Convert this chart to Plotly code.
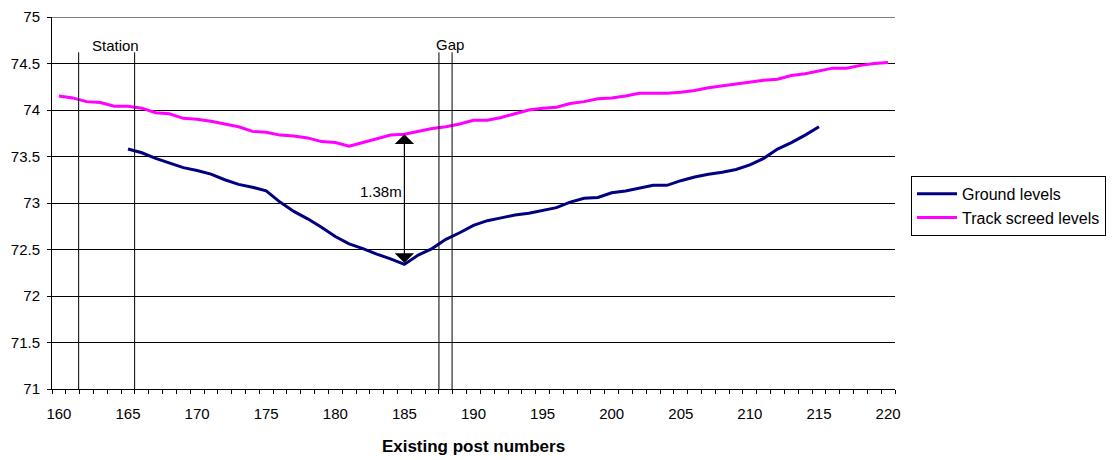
import plotly.graph_objects as go

posts = list(range(160, 221))
track_levels = [74.15, 74.13, 74.09, 74.08, 74.04, 74.04, 74.02, 73.97, 73.96, 73.91,
                73.90, 73.88, 73.85, 73.82, 73.77, 73.76, 73.73, 73.72, 73.70, 73.66,
                73.65, 73.61, 73.65, 73.69, 73.73, 73.74, 73.77, 73.80, 73.82, 73.85,
                73.89, 73.89, 73.92, 73.96, 74.00, 74.02, 74.03, 74.07, 74.09, 74.12,
                74.13, 74.15, 74.18, 74.18, 74.18, 74.19, 74.21, 74.24, 74.26, 74.28,
                74.30, 74.32, 74.33, 74.37, 74.39, 74.42, 74.45, 74.45, 74.48, 74.50,
                74.51]
ground_posts = list(range(165, 216))
ground_levels = [73.58, 73.54, 73.48, 73.43, 73.38, 73.35, 73.31, 73.25, 73.20, 73.17,
                 73.13, 73.01, 72.91, 72.83, 72.74, 72.64, 72.56, 72.51, 72.45, 72.40,
                 72.34, 72.44, 72.51, 72.61, 72.68, 72.76, 72.81, 72.84, 72.87, 72.89,
                 72.92, 72.95, 73.01, 73.05, 73.06, 73.11, 73.13, 73.16, 73.19, 73.19,
                 73.24, 73.28, 73.31, 73.33, 73.36, 73.41, 73.48, 73.58, 73.65, 73.73,
                 73.82]
station_lines = [161.43, 165.48]
gap_lines = [187.5, 188.45]
marker_top = 74.62
station_label_x = 164.1
gap_label_x = 188.3
gap_post = 185
gap_label = "1.38m"
x_ticks = list(range(160, 221, 5))
y_ticks = [71 + 0.5 * i for i in range(9)]
y_min, y_max = 71, 75

FONT = "Liberation Sans, Arial, sans-serif"
FS = 15

fig = go.Figure()
fig.add_trace(go.Scatter(x=ground_posts, y=ground_levels, mode="lines",
                         name="Ground levels",
                         line=dict(color="#000080", width=3)))
fig.add_trace(go.Scatter(x=posts, y=track_levels, mode="lines",
                         name="Track screed levels",
                         line=dict(color="#FF00FF", width=3)))

# top gridline (plot edge)
fig.add_shape(type="line", xref="paper", yref="y", x0=0, x1=1, y0=y_max, y1=y_max,
              line=dict(color="black", width=1), layer="below")

for xv in station_lines + gap_lines:
    fig.add_shape(type="line", xref="x", yref="y", x0=xv, x1=xv, y0=y_min, y1=marker_top,
                  line=dict(color="black", width=1))

fig.add_annotation(x=station_label_x, y=marker_top, xref="x", yref="y",
                   text="Station", showarrow=False, yanchor="bottom", yshift=-4,
                   font=dict(family=FONT, size=FS, color="black"))
fig.add_annotation(x=gap_label_x, y=marker_top, xref="x", yref="y",
                   text="Gap", showarrow=False, yanchor="bottom", yshift=-3,
                   font=dict(family=FONT, size=FS, color="black"))

g_min = ground_levels[ground_posts.index(gap_post)]
t_at = track_levels[posts.index(gap_post)]
fig.add_annotation(x=gap_post, y=t_at, ax=gap_post, ay=g_min, xref="x", yref="y",
                   axref="x", ayref="y", text="", showarrow=True,
                   arrowhead=1, arrowsize=2.7, arrowwidth=1.2, arrowcolor="black",
                   arrowside="end+start", standoff=0, startstandoff=0)
fig.add_annotation(x=gap_post, y=(g_min + t_at) / 2 + 0.08, xref="x", yref="y",
                   text=gap_label, showarrow=False, xanchor="right", xshift=0,
                   font=dict(family=FONT, size=FS, color="black"))

fig.update_layout(
    width=1106, height=452,
    margin=dict(l=44, r=219, t=9, b=71, autoexpand=False),
    paper_bgcolor="white", plot_bgcolor="white",
    font=dict(family=FONT, size=FS, color="black"),
    showlegend=True,
    legend=dict(x=1.019, y=0.573, xanchor="left", yanchor="top",
                bordercolor="black", borderwidth=1, bgcolor="white",
                font=dict(family=FONT, size=16, color="black"),
                tracegroupgap=0, itemwidth=40),
    xaxis=dict(range=[159.5, 220.5], tickmode="array", tickvals=x_ticks,
               ticks="", showgrid=False, zeroline=False, automargin=False,
               showline=True, linecolor="black", linewidth=1,
               ticklabelstandoff=11, ticklabeloverflow="allow",
               tickfont=dict(family=FONT, size=FS, color="black"),
               minor=dict(tickmode="linear", tick0=159.5, dtick=1, ticks="outside",
                          ticklen=4, tickcolor="black", tickwidth=1, showgrid=False),
               title=dict(text="<b>Existing post numbers</b>", standoff=19,
                          font=dict(family=FONT, size=17, color="black"))),
    yaxis=dict(range=[y_min, y_max], tickmode="array", tickvals=y_ticks,
               ticks="outside", ticklen=4, tickcolor="black", automargin=False,
               ticklabelstandoff=4, ticklabeloverflow="allow",
               showgrid=True, gridcolor="black", gridwidth=1, zeroline=False,
               showline=True, linecolor="black", linewidth=1,
               tickfont=dict(family=FONT, size=FS, color="black")),
)

fig.write_html("out.html")
